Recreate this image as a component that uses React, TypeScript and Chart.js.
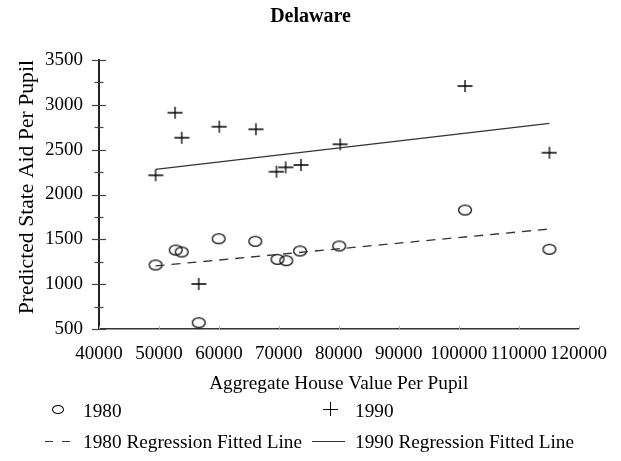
import React, { useEffect, useRef } from "react";
import { Chart, registerables } from "chart.js";

Chart.register(...registerables);

// ---- Data ----
const chartTitle = "Delaware";
const xAxisTitle = "Aggregate House Value Per Pupil";
const yAxisTitle = "Predicted State Aid Per Pupil";

const houseValue1980 = [49440, 52800, 53800, 56640, 59960, 66070, 69780, 71250, 73540, 80080, 101070, 115150];
const stateAid1980 = [1214, 1381, 1359, 570, 1507, 1478, 1277, 1262, 1370, 1426, 1827, 1389];

const houseValue1990 = [49440, 52700, 53800, 56640, 60070, 66180, 69610, 71140, 73700, 80250, 101070, 115150];
const stateAid1990 = [2214, 2912, 2633, 1002, 2756, 2727, 2254, 2303, 2329, 2560, 3210, 2466];

const fitX = [49440, 115150];
const fit1980 = [1203, 1615];
const fit1990 = [2281, 2794];

const xMin = 40000;
const xMax = 120000;
const xStep = 10000;
const yMin = 500;
const yMax = 3500;
const yStep = 500;
const yMinorStep = 250;

const legendLabels = ["1980", "1990", "1980 Regression Fitted Line", "1990 Regression Fitted Line"];

const FONT = "'Liberation Serif', 'Times New Roman', serif";

function makeEllipse(): HTMLCanvasElement {
  const c = document.createElement("canvas");
  c.width = 16;
  c.height = 13;
  const g = c.getContext("2d")!;
  g.strokeStyle = "#000";
  g.lineWidth = 1.2;
  g.beginPath();
  g.ellipse(8, 6.5, 6.4, 4.9, 0, 0, Math.PI * 2);
  g.stroke();
  return c;
}

function makePlus(): HTMLCanvasElement {
  const c = document.createElement("canvas");
  c.width = 16;
  c.height = 14;
  const g = c.getContext("2d")!;
  g.strokeStyle = "#000";
  g.lineWidth = 1.3;
  g.beginPath();
  g.moveTo(0.5, 7);
  g.lineTo(15.5, 7);
  g.moveTo(8, 1);
  g.lineTo(8, 13);
  g.stroke();
  return c;
}

const tickPlugin = {
  id: "crossTicks",
  afterDraw(chart: any) {
    const { ctx } = chart;
    const y = chart.scales.y;
    const x = chart.scales.x;
    ctx.save();
    ctx.strokeStyle = "#444";
    ctx.lineWidth = 1.2;
    for (let v = y.min; v <= y.max + 1e-6; v += yMinorStep) {
      const py = Math.round(y.getPixelForValue(v)) + 0.5;
      const major = Math.abs(v % yStep) < 1e-6;
      const len = major ? 7 : 4.5;
      ctx.beginPath();
      ctx.moveTo(y.right - len, py);
      ctx.lineTo(y.right + len, py);
      ctx.stroke();
    }
    ctx.strokeStyle = "#aaa";
    ctx.lineWidth = 1;
    x.ticks.forEach((t: any) => {
      const px = Math.round(x.getPixelForValue(t.value)) + 0.5;
      ctx.beginPath();
      ctx.moveTo(px, x.top - 3);
      ctx.lineTo(px, x.top);
      ctx.stroke();
    });
    ctx.restore();
  },
};

export default function App() {
  const ref = useRef<HTMLCanvasElement | null>(null);

  useEffect(() => {
    if (!ref.current) return;
    const ellipse = makeEllipse();
    const plus = makePlus();
    const pts = (xs: number[], ys: number[]) => xs.map((v, i) => ({ x: v, y: ys[i] }));
    const chart = new Chart(ref.current, {
      type: "scatter",
      data: {
        datasets: [
          {
            label: legendLabels[2],
            data: pts(fitX, fit1980),
            showLine: true,
            borderColor: "#333",
            borderWidth: 1.3,
            borderDash: [9, 7],
            pointRadius: 0,
          },
          {
            label: legendLabels[3],
            data: pts(fitX, fit1990),
            showLine: true,
            borderColor: "#333",
            borderWidth: 1.3,
            pointRadius: 0,
          },
          {
            label: legendLabels[0],
            data: pts(houseValue1980, stateAid1980),
            pointStyle: ellipse,
            pointRadius: 7,
          },
          {
            label: legendLabels[1],
            data: pts(houseValue1990, stateAid1990),
            pointStyle: plus,
            pointRadius: 7,
          },
        ],
      },
      options: {
        responsive: false,
        animation: false,
        layout: { padding: 0 },
        plugins: {
          legend: { display: false },
          tooltip: { enabled: false },
          title: {
            display: true,
            text: chartTitle,
            color: "#000",
            font: { family: FONT, size: 20, weight: "bold" },
            padding: { top: 5, bottom: 31 },
          },
        },
        scales: {
          x: {
            type: "linear",
            min: xMin,
            max: xMax,
            afterFit: (s: any) => {
              s.height = 132;
            },
            ticks: {
              stepSize: xStep,
              color: "#000",
              padding: 14,
              maxRotation: 0,
              font: { family: FONT, size: 19 },
              callback: (v: any) => String(v),
            },
            grid: { display: false, drawTicks: false },
            border: { display: true, color: "#333", width: 1.5 },
            title: {
              display: true,
              text: xAxisTitle,
              color: "#000",
              font: { family: FONT, size: 19.3 },
              padding: { top: 0, bottom: 65 },
            },
          },
          y: {
            type: "linear",
            min: yMin,
            max: yMax,
            afterFit: (s: any) => {
              s.width = 99;
            },
            ticks: {
              stepSize: yStep,
              color: "#000",
              padding: 16,
              font: { family: FONT, size: 19 },
              callback: (v: any) => String(v),
            },
            grid: { display: false, drawTicks: false },
            border: { display: true, color: "#222", width: 2 },
            title: {
              display: true,
              text: yAxisTitle,
              align: "end",
              color: "#000",
              font: { family: FONT, size: 21.7 },
              padding: { top: 14, bottom: 0 },
            },
          },
          spacer: {
            type: "linear",
            position: "right",
            display: true,
            afterFit: (s: any) => {
              s.width = 33;
            },
            ticks: { display: false },
            grid: { display: false, drawTicks: false },
            border: { display: false },
            title: { display: false },
          },
        },
      },
      plugins: [tickPlugin],
    });
    return () => chart.destroy();
  }, []);

  const text: React.CSSProperties = {
    position: "absolute",
    fontFamily: FONT,
    fontSize: 19.3,
    lineHeight: "19px",
    color: "#000",
    whiteSpace: "nowrap",
  };
  const bar = (l: number, t: number, w: number, h: number, c = "#000"): React.CSSProperties => ({
    position: "absolute",
    left: l,
    top: t,
    width: w,
    height: h,
    background: c,
  });

  return (
    <div style={{ position: "absolute", left: 0, top: 0, width: 621, height: 461, background: "#fff" }}>
      <canvas ref={ref} width={621} height={461} style={{ position: "absolute", left: 0, top: 0 }} />
      {/* Legend row 1 */}
      <div
        style={{
          position: "absolute",
          left: 52,
          top: 405,
          width: 12,
          height: 9,
          boxSizing: "border-box",
          border: "1.5px solid #000",
          borderRadius: "50%",
        }}
      />
      <span style={{ ...text, left: 83, top: 400.5 }}>{legendLabels[0]}</span>
      <div style={bar(323, 408.5, 15, 1.5)} />
      <div style={bar(329.7, 402, 1.5, 14)} />
      <span style={{ ...text, left: 355, top: 400.5 }}>{legendLabels[1]}</span>
      {/* Legend row 2 */}
      <div style={bar(45, 440.5, 8, 1.3, "#333")} />
      <div style={bar(62, 440.5, 8, 1.3, "#333")} />
      <span style={{ ...text, left: 83, top: 431.5 }}>{legendLabels[2]}</span>
      <div style={bar(312, 440.5, 33, 1.3, "#333")} />
      <span style={{ ...text, left: 355, top: 431.5 }}>{legendLabels[3]}</span>
    </div>
  );
}
